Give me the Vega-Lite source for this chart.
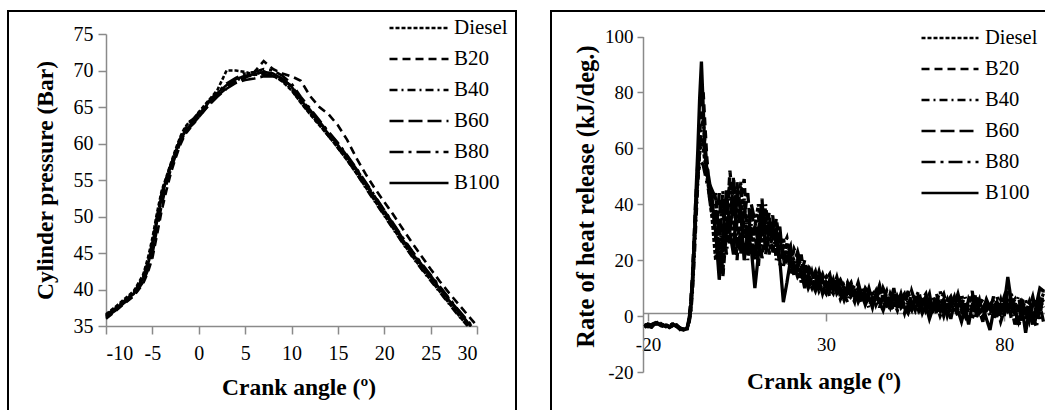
{
"$schema": "https://vega.github.io/schema/vega-lite/v6.json",
"padding": {"left": 7, "top": 10, "right": 0, "bottom": 0},
"spacing": 33,
"config": {
  "font": "Liberation Serif",
  "view": {"stroke": "black", "strokeWidth": 2},
  "axis": {"domainColor": "#8a8a8a", "tickColor": "#8a8a8a", "domainWidth": 1.5, "tickWidth": 1.5, "grid": false, "labelFont": "Liberation Serif", "labelColor": "black", "titleFont": "Liberation Serif", "titleFontWeight": "bold", "titleColor": "black", "labelExpr": "replace(datum.label, '\u2212', '-')"},
  "legend": {"labelFont": "Liberation Serif", "labelColor": "black"}
},
"resolve": {"scale": {"strokeDash": "independent"}, "legend": {"strokeDash": "independent"}},
"datasets": {
"p": [
{"s":"Diesel","x":-10,"y":36.6},{"s":"Diesel","x":-9,"y":37.6},{"s":"Diesel","x":-8,"y":38.7},{"s":"Diesel","x":-7,"y":39.8},{"s":"Diesel","x":-6,"y":42},{"s":"Diesel","x":-5.5,"y":44.2},{"s":"Diesel","x":-5,"y":47},{"s":"Diesel","x":-4.5,"y":50.5},{"s":"Diesel","x":-4,"y":53.5},{"s":"Diesel","x":-3.5,"y":55.4},{"s":"Diesel","x":-3,"y":57.3},{"s":"Diesel","x":-2.5,"y":59.2},{"s":"Diesel","x":-2,"y":60.9},{"s":"Diesel","x":-1.5,"y":62.2},{"s":"Diesel","x":-1,"y":63},{"s":"Diesel","x":-0.5,"y":63.4},{"s":"Diesel","x":0,"y":64.3},{"s":"Diesel","x":1,"y":65.8},{"s":"Diesel","x":2,"y":67.3},{"s":"Diesel","x":3,"y":70},{"s":"Diesel","x":4,"y":70},{"s":"Diesel","x":5,"y":69.8},{"s":"Diesel","x":6,"y":69.4},{"s":"Diesel","x":7,"y":69.9},{"s":"Diesel","x":8,"y":69.3},{"s":"Diesel","x":9,"y":68.5},{"s":"Diesel","x":10,"y":67.3},{"s":"Diesel","x":11,"y":65.6},{"s":"Diesel","x":12,"y":64},{"s":"Diesel","x":13,"y":62.5},{"s":"Diesel","x":14,"y":61},{"s":"Diesel","x":15,"y":59.4},{"s":"Diesel","x":16,"y":57.7},{"s":"Diesel","x":17,"y":55.9},{"s":"Diesel","x":18,"y":54},{"s":"Diesel","x":19,"y":52.1},{"s":"Diesel","x":20,"y":50.2},{"s":"Diesel","x":21,"y":48.3},{"s":"Diesel","x":22,"y":46.4},{"s":"Diesel","x":23,"y":44.6},{"s":"Diesel","x":24,"y":42.9},{"s":"Diesel","x":25,"y":41.3},{"s":"Diesel","x":26,"y":39.7},{"s":"Diesel","x":27,"y":38.1},{"s":"Diesel","x":28,"y":36.5},{"s":"Diesel","x":29,"y":35},
{"s":"B20","x":-10,"y":36},{"s":"B20","x":-9,"y":37},{"s":"B20","x":-8,"y":38.1},{"s":"B20","x":-7,"y":39.1},{"s":"B20","x":-6,"y":40.8},{"s":"B20","x":-5.5,"y":42.3},{"s":"B20","x":-5,"y":44.3},{"s":"B20","x":-4.5,"y":47.5},{"s":"B20","x":-4,"y":50.8},{"s":"B20","x":-3.5,"y":53.5},{"s":"B20","x":-3,"y":56},{"s":"B20","x":-2.5,"y":58},{"s":"B20","x":-2,"y":59.8},{"s":"B20","x":-1.5,"y":61.2},{"s":"B20","x":-1,"y":62},{"s":"B20","x":-0.5,"y":62.9},{"s":"B20","x":0,"y":63.6},{"s":"B20","x":1,"y":65.2},{"s":"B20","x":2,"y":66.5},{"s":"B20","x":3,"y":67.6},{"s":"B20","x":4,"y":68.5},{"s":"B20","x":5,"y":69},{"s":"B20","x":6,"y":69.8},{"s":"B20","x":7,"y":71.3},{"s":"B20","x":8,"y":70.2},{"s":"B20","x":9,"y":69.6},{"s":"B20","x":10,"y":69.2},{"s":"B20","x":11,"y":68.6},{"s":"B20","x":12,"y":66.5},{"s":"B20","x":13,"y":65},{"s":"B20","x":14,"y":64},{"s":"B20","x":15,"y":62.5},{"s":"B20","x":16,"y":60.5},{"s":"B20","x":17,"y":58},{"s":"B20","x":18,"y":55.8},{"s":"B20","x":19,"y":53.8},{"s":"B20","x":20,"y":52},{"s":"B20","x":21,"y":50.2},{"s":"B20","x":22,"y":48.3},{"s":"B20","x":23,"y":46.4},{"s":"B20","x":24,"y":44.6},{"s":"B20","x":25,"y":42.8},{"s":"B20","x":26,"y":41.1},{"s":"B20","x":27,"y":39.5},{"s":"B20","x":28,"y":38},{"s":"B20","x":29,"y":36.5},{"s":"B20","x":30,"y":35},
{"s":"B40","x":-10,"y":36.4},{"s":"B40","x":-9,"y":37.5},{"s":"B40","x":-8,"y":38.5},{"s":"B40","x":-7,"y":39.6},{"s":"B40","x":-6,"y":41.7},{"s":"B40","x":-5.5,"y":43.6},{"s":"B40","x":-5,"y":46.2},{"s":"B40","x":-4.5,"y":49.8},{"s":"B40","x":-4,"y":53},{"s":"B40","x":-3.5,"y":55.2},{"s":"B40","x":-3,"y":57.2},{"s":"B40","x":-2.5,"y":58.9},{"s":"B40","x":-2,"y":60.5},{"s":"B40","x":-1.5,"y":61.5},{"s":"B40","x":-1,"y":62.8},{"s":"B40","x":-0.5,"y":63},{"s":"B40","x":0,"y":63.8},{"s":"B40","x":1,"y":65.4},{"s":"B40","x":2,"y":66.6},{"s":"B40","x":3,"y":67.8},{"s":"B40","x":4,"y":68.6},{"s":"B40","x":5,"y":69.1},{"s":"B40","x":6,"y":69.4},{"s":"B40","x":7,"y":69.5},{"s":"B40","x":8,"y":69.3},{"s":"B40","x":9,"y":68.6},{"s":"B40","x":10,"y":67.4},{"s":"B40","x":11,"y":65.6},{"s":"B40","x":12,"y":64.1},{"s":"B40","x":13,"y":62.6},{"s":"B40","x":14,"y":61},{"s":"B40","x":15,"y":59.4},{"s":"B40","x":16,"y":57.7},{"s":"B40","x":17,"y":55.9},{"s":"B40","x":18,"y":53.9},{"s":"B40","x":19,"y":52},{"s":"B40","x":20,"y":50.1},{"s":"B40","x":21,"y":48.2},{"s":"B40","x":22,"y":46.3},{"s":"B40","x":23,"y":44.5},{"s":"B40","x":24,"y":42.8},{"s":"B40","x":25,"y":41.2},{"s":"B40","x":26,"y":39.6},{"s":"B40","x":27,"y":38},{"s":"B40","x":28,"y":36.4},{"s":"B40","x":29,"y":35},
{"s":"B60","x":-10,"y":36.2},{"s":"B60","x":-9,"y":37.1},{"s":"B60","x":-8,"y":38.2},{"s":"B60","x":-7,"y":39.2},{"s":"B60","x":-6,"y":41},{"s":"B60","x":-5.5,"y":42.6},{"s":"B60","x":-5,"y":44.8},{"s":"B60","x":-4.5,"y":48.3},{"s":"B60","x":-4,"y":51.5},{"s":"B60","x":-3.5,"y":54.3},{"s":"B60","x":-3,"y":56.5},{"s":"B60","x":-2.5,"y":58.3},{"s":"B60","x":-2,"y":60.1},{"s":"B60","x":-1.5,"y":61.4},{"s":"B60","x":-1,"y":62.2},{"s":"B60","x":-0.5,"y":62.8},{"s":"B60","x":0,"y":63.6},{"s":"B60","x":1,"y":65.1},{"s":"B60","x":2,"y":66.4},{"s":"B60","x":3,"y":67.5},{"s":"B60","x":4,"y":68.3},{"s":"B60","x":5,"y":68.7},{"s":"B60","x":6,"y":68.9},{"s":"B60","x":7,"y":69.2},{"s":"B60","x":8,"y":69.2},{"s":"B60","x":9,"y":68.8},{"s":"B60","x":10,"y":67.9},{"s":"B60","x":11,"y":66.2},{"s":"B60","x":12,"y":64.6},{"s":"B60","x":13,"y":63},{"s":"B60","x":14,"y":61.5},{"s":"B60","x":15,"y":60},{"s":"B60","x":16,"y":58.3},{"s":"B60","x":17,"y":56.5},{"s":"B60","x":18,"y":54.6},{"s":"B60","x":19,"y":52.7},{"s":"B60","x":20,"y":50.8},{"s":"B60","x":21,"y":48.9},{"s":"B60","x":22,"y":47},{"s":"B60","x":23,"y":45.2},{"s":"B60","x":24,"y":43.5},{"s":"B60","x":25,"y":41.9},{"s":"B60","x":26,"y":40.3},{"s":"B60","x":27,"y":38.7},{"s":"B60","x":28,"y":37.1},{"s":"B60","x":29,"y":35.5},{"s":"B60","x":29.4,"y":35},
{"s":"B80","x":-10,"y":36.5},{"s":"B80","x":-9,"y":37.4},{"s":"B80","x":-8,"y":38.5},{"s":"B80","x":-7,"y":39.5},{"s":"B80","x":-6,"y":41.6},{"s":"B80","x":-5.5,"y":43.8},{"s":"B80","x":-5,"y":46.5},{"s":"B80","x":-4.5,"y":50},{"s":"B80","x":-4,"y":53.2},{"s":"B80","x":-3.5,"y":55.3},{"s":"B80","x":-3,"y":57},{"s":"B80","x":-2.5,"y":58.8},{"s":"B80","x":-2,"y":60.7},{"s":"B80","x":-1.5,"y":62},{"s":"B80","x":-1,"y":62.9},{"s":"B80","x":-0.5,"y":63.5},{"s":"B80","x":0,"y":64.2},{"s":"B80","x":1,"y":65.7},{"s":"B80","x":2,"y":67},{"s":"B80","x":3,"y":68.2},{"s":"B80","x":4,"y":69},{"s":"B80","x":5,"y":69.6},{"s":"B80","x":6,"y":69.8},{"s":"B80","x":7,"y":70.2},{"s":"B80","x":8,"y":70},{"s":"B80","x":9,"y":69.3},{"s":"B80","x":10,"y":68.2},{"s":"B80","x":11,"y":66.4},{"s":"B80","x":12,"y":64.8},{"s":"B80","x":13,"y":63.2},{"s":"B80","x":14,"y":61.6},{"s":"B80","x":15,"y":60.1},{"s":"B80","x":16,"y":58.4},{"s":"B80","x":17,"y":56.6},{"s":"B80","x":18,"y":54.7},{"s":"B80","x":19,"y":52.8},{"s":"B80","x":20,"y":50.9},{"s":"B80","x":21,"y":49},{"s":"B80","x":22,"y":47.1},{"s":"B80","x":23,"y":45.3},{"s":"B80","x":24,"y":43.6},{"s":"B80","x":25,"y":42},{"s":"B80","x":26,"y":40.4},{"s":"B80","x":27,"y":38.8},{"s":"B80","x":28,"y":37.2},{"s":"B80","x":29,"y":35.7},{"s":"B80","x":29.5,"y":35},
{"s":"B100","x":-10,"y":36.3},{"s":"B100","x":-9,"y":37.3},{"s":"B100","x":-8,"y":38.4},{"s":"B100","x":-7,"y":39.4},{"s":"B100","x":-6,"y":41.5},{"s":"B100","x":-5.5,"y":43.3},{"s":"B100","x":-5,"y":45.7},{"s":"B100","x":-4.5,"y":49.3},{"s":"B100","x":-4,"y":52.6},{"s":"B100","x":-3.5,"y":55},{"s":"B100","x":-3,"y":57},{"s":"B100","x":-2.5,"y":58.7},{"s":"B100","x":-2,"y":60.5},{"s":"B100","x":-1.5,"y":61.7},{"s":"B100","x":-1,"y":62.4},{"s":"B100","x":-0.5,"y":63.2},{"s":"B100","x":0,"y":64},{"s":"B100","x":1,"y":65.5},{"s":"B100","x":2,"y":66.9},{"s":"B100","x":3,"y":68},{"s":"B100","x":4,"y":68.8},{"s":"B100","x":5,"y":69.3},{"s":"B100","x":6,"y":69.5},{"s":"B100","x":7,"y":69.8},{"s":"B100","x":8,"y":69.6},{"s":"B100","x":9,"y":68.9},{"s":"B100","x":10,"y":67.8},{"s":"B100","x":11,"y":66},{"s":"B100","x":12,"y":64.4},{"s":"B100","x":13,"y":62.9},{"s":"B100","x":14,"y":61.3},{"s":"B100","x":15,"y":59.8},{"s":"B100","x":16,"y":58.1},{"s":"B100","x":17,"y":56.3},{"s":"B100","x":18,"y":54.4},{"s":"B100","x":19,"y":52.5},{"s":"B100","x":20,"y":50.6},{"s":"B100","x":21,"y":48.7},{"s":"B100","x":22,"y":46.8},{"s":"B100","x":23,"y":45},{"s":"B100","x":24,"y":43.3},{"s":"B100","x":25,"y":41.7},{"s":"B100","x":26,"y":40.1},{"s":"B100","x":27,"y":38.5},{"s":"B100","x":28,"y":36.9},{"s":"B100","x":29,"y":35.4},{"s":"B100","x":29.3,"y":35}
],
"h": [
{"s":"Diesel","x":-21,"y":-3},{"s":"Diesel","x":-20,"y":-3.4},{"s":"Diesel","x":-19,"y":-3.9},{"s":"Diesel","x":-18,"y":-2.8},{"s":"Diesel","x":-17,"y":-2},{"s":"Diesel","x":-16,"y":-3.2},{"s":"Diesel","x":-15,"y":-3.6},{"s":"Diesel","x":-14,"y":-3.4},{"s":"Diesel","x":-13,"y":-2.8},{"s":"Diesel","x":-12,"y":-3.8},{"s":"Diesel","x":-11,"y":-4.4},{"s":"Diesel","x":-10,"y":-4.6},{"s":"Diesel","x":-9,"y":-4},
{"s":"Diesel","x":-8.5,"y":-2},{"s":"Diesel","x":-8,"y":2},{"s":"Diesel","x":-7.5,"y":11},{"s":"Diesel","x":-7,"y":24},{"s":"Diesel","x":-6.5,"y":38},{"s":"Diesel","x":-6,"y":50},{"s":"Diesel","x":-5.5,"y":58},{"s":"Diesel","x":-5,"y":62},{"s":"Diesel","x":-4.5,"y":60},{"s":"Diesel","x":-4,"y":55},{"s":"Diesel","x":-3.5,"y":50},{"s":"Diesel","x":-3,"y":46},{"s":"Diesel","x":-2.5,"y":40},{"s":"Diesel","x":-2,"y":35},
{"s":"Diesel","x":-1,"y":20},{"s":"Diesel","x":0,"y":35},{"s":"Diesel","x":1,"y":15},{"s":"Diesel","x":2,"y":38},{"s":"Diesel","x":3,"y":48},{"s":"Diesel","x":4,"y":26},{"s":"Diesel","x":5,"y":34},{"s":"Diesel","x":6,"y":48},{"s":"Diesel","x":7,"y":28},{"s":"Diesel","x":8,"y":36},{"s":"Diesel","x":9,"y":22},{"s":"Diesel","x":10,"y":32},{"s":"Diesel","x":11,"y":40},{"s":"Diesel","x":12,"y":26},{"s":"Diesel","x":13,"y":36},{"s":"Diesel","x":14,"y":22},{"s":"Diesel","x":15,"y":30},{"s":"Diesel","x":16,"y":26},{"s":"Diesel","x":17,"y":24},{"s":"Diesel","x":18,"y":28},{"s":"Diesel","x":19,"y":20},{"s":"Diesel","x":20,"y":22},{"s":"Diesel","x":21,"y":17},{"s":"Diesel","x":22,"y":20},{"s":"Diesel","x":23,"y":12},{"s":"Diesel","x":24,"y":17},{"s":"Diesel","x":25,"y":13},{"s":"Diesel","x":26,"y":10},{"s":"Diesel","x":27,"y":14},{"s":"Diesel","x":28,"y":9},{"s":"Diesel","x":29,"y":12},{"s":"Diesel","x":30,"y":14},{"s":"Diesel","x":31,"y":10},{"s":"Diesel","x":32,"y":8},{"s":"Diesel","x":33,"y":12},{"s":"Diesel","x":34,"y":7},{"s":"Diesel","x":35,"y":11},{"s":"Diesel","x":36,"y":8},{"s":"Diesel","x":37,"y":10},{"s":"Diesel","x":38,"y":6},{"s":"Diesel","x":39,"y":9},{"s":"Diesel","x":40,"y":5},{"s":"Diesel","x":41,"y":8},{"s":"Diesel","x":42,"y":6},{"s":"Diesel","x":43,"y":9},{"s":"Diesel","x":44,"y":4},{"s":"Diesel","x":45,"y":7},{"s":"Diesel","x":46,"y":5},{"s":"Diesel","x":47,"y":3},{"s":"Diesel","x":48,"y":8},{"s":"Diesel","x":49,"y":5},{"s":"Diesel","x":50,"y":2},{"s":"Diesel","x":51,"y":6},{"s":"Diesel","x":52,"y":8},{"s":"Diesel","x":53,"y":4},{"s":"Diesel","x":54,"y":2},{"s":"Diesel","x":55,"y":7},{"s":"Diesel","x":56,"y":3},{"s":"Diesel","x":57,"y":5},{"s":"Diesel","x":58,"y":1},{"s":"Diesel","x":59,"y":6},{"s":"Diesel","x":60,"y":2},{"s":"Diesel","x":61,"y":4},{"s":"Diesel","x":62,"y":0},{"s":"Diesel","x":63,"y":3},{"s":"Diesel","x":64,"y":6},{"s":"Diesel","x":65,"y":1},{"s":"Diesel","x":66,"y":3},{"s":"Diesel","x":67,"y":7},{"s":"Diesel","x":68,"y":2},{"s":"Diesel","x":69,"y":5},{"s":"Diesel","x":70,"y":1},{"s":"Diesel","x":71,"y":-1},{"s":"Diesel","x":72,"y":3},{"s":"Diesel","x":73,"y":6},{"s":"Diesel","x":74,"y":0},{"s":"Diesel","x":75,"y":2},{"s":"Diesel","x":76,"y":4},{"s":"Diesel","x":77,"y":-1},{"s":"Diesel","x":78,"y":2},{"s":"Diesel","x":79,"y":6},{"s":"Diesel","x":80,"y":1},{"s":"Diesel","x":81,"y":3},{"s":"Diesel","x":82,"y":8},{"s":"Diesel","x":83,"y":0},{"s":"Diesel","x":84,"y":4},{"s":"Diesel","x":85,"y":-2},{"s":"Diesel","x":86,"y":1},{"s":"Diesel","x":87,"y":5},{"s":"Diesel","x":88,"y":-1},{"s":"Diesel","x":89,"y":2},{"s":"Diesel","x":90,"y":6},{"s":"Diesel","x":91,"y":3},
{"s":"B20","x":-21,"y":-4},{"s":"B20","x":-20,"y":-3.2},{"s":"B20","x":-19,"y":-3.5},{"s":"B20","x":-18,"y":-2.2},{"s":"B20","x":-17,"y":-2.6},{"s":"B20","x":-16,"y":-3.8},{"s":"B20","x":-15,"y":-3},{"s":"B20","x":-14,"y":-4},{"s":"B20","x":-13,"y":-3.4},{"s":"B20","x":-12,"y":-3.2},{"s":"B20","x":-11,"y":-4.8},{"s":"B20","x":-10,"y":-4.4},{"s":"B20","x":-9,"y":-4.2},
{"s":"B20","x":-8.5,"y":-1},{"s":"B20","x":-8,"y":5},{"s":"B20","x":-7.5,"y":15},{"s":"B20","x":-7,"y":30},{"s":"B20","x":-6.5,"y":44},{"s":"B20","x":-6,"y":55},{"s":"B20","x":-5.5,"y":65},{"s":"B20","x":-5,"y":74},{"s":"B20","x":-4.5,"y":80},{"s":"B20","x":-4,"y":68},{"s":"B20","x":-3.5,"y":57},{"s":"B20","x":-3,"y":49},{"s":"B20","x":-2.5,"y":43},{"s":"B20","x":-2,"y":38},
{"s":"B20","x":-1,"y":44},{"s":"B20","x":0,"y":25},{"s":"B20","x":1,"y":14},{"s":"B20","x":2,"y":30},{"s":"B20","x":3,"y":52},{"s":"B20","x":4,"y":38},{"s":"B20","x":5,"y":20},{"s":"B20","x":6,"y":42},{"s":"B20","x":7,"y":49},{"s":"B20","x":8,"y":24},{"s":"B20","x":9,"y":38},{"s":"B20","x":10,"y":30},{"s":"B20","x":11,"y":18},{"s":"B20","x":12,"y":35},{"s":"B20","x":13,"y":27},{"s":"B20","x":14,"y":37},{"s":"B20","x":15,"y":22},{"s":"B20","x":16,"y":35},{"s":"B20","x":17,"y":26},{"s":"B20","x":18,"y":22},{"s":"B20","x":19,"y":26},{"s":"B20","x":20,"y":18},{"s":"B20","x":21,"y":24},{"s":"B20","x":22,"y":21},{"s":"B20","x":23,"y":15},{"s":"B20","x":24,"y":20},{"s":"B20","x":25,"y":12},{"s":"B20","x":26,"y":16},{"s":"B20","x":27,"y":11},{"s":"B20","x":28,"y":14},{"s":"B20","x":29,"y":10},{"s":"B20","x":30,"y":8},{"s":"B20","x":31,"y":13},{"s":"B20","x":32,"y":10},{"s":"B20","x":33,"y":14},{"s":"B20","x":34,"y":9},{"s":"B20","x":35,"y":6},{"s":"B20","x":36,"y":10},{"s":"B20","x":37,"y":12},{"s":"B20","x":38,"y":7},{"s":"B20","x":39,"y":10},{"s":"B20","x":40,"y":9},{"s":"B20","x":41,"y":6},{"s":"B20","x":42,"y":10},{"s":"B20","x":43,"y":5},{"s":"B20","x":44,"y":6},{"s":"B20","x":45,"y":9},{"s":"B20","x":46,"y":7},{"s":"B20","x":47,"y":4},{"s":"B20","x":48,"y":6},{"s":"B20","x":49,"y":9},{"s":"B20","x":50,"y":6},{"s":"B20","x":51,"y":3},{"s":"B20","x":52,"y":5},{"s":"B20","x":53,"y":8},{"s":"B20","x":54,"y":6},{"s":"B20","x":55,"y":3},{"s":"B20","x":56,"y":8},{"s":"B20","x":57,"y":4},{"s":"B20","x":58,"y":7},{"s":"B20","x":59,"y":3},{"s":"B20","x":60,"y":5},{"s":"B20","x":61,"y":1},{"s":"B20","x":62,"y":6},{"s":"B20","x":63,"y":8},{"s":"B20","x":64,"y":3},{"s":"B20","x":65,"y":5},{"s":"B20","x":66,"y":1},{"s":"B20","x":67,"y":4},{"s":"B20","x":68,"y":6},{"s":"B20","x":69,"y":1},{"s":"B20","x":70,"y":4},{"s":"B20","x":71,"y":7},{"s":"B20","x":72,"y":2},{"s":"B20","x":73,"y":4},{"s":"B20","x":74,"y":6},{"s":"B20","x":75,"y":1},{"s":"B20","x":76,"y":3},{"s":"B20","x":77,"y":5},{"s":"B20","x":78,"y":0},{"s":"B20","x":79,"y":3},{"s":"B20","x":80,"y":7},{"s":"B20","x":81,"y":2},{"s":"B20","x":82,"y":4},{"s":"B20","x":83,"y":6},{"s":"B20","x":84,"y":1},{"s":"B20","x":85,"y":5},{"s":"B20","x":86,"y":2},{"s":"B20","x":87,"y":-2},{"s":"B20","x":88,"y":4},{"s":"B20","x":89,"y":0},{"s":"B20","x":90,"y":5},{"s":"B20","x":91,"y":8},
{"s":"B40","x":-21,"y":-3.2},{"s":"B40","x":-20,"y":-3.6},{"s":"B40","x":-19,"y":-4},{"s":"B40","x":-18,"y":-3},{"s":"B40","x":-17,"y":-2.4},{"s":"B40","x":-16,"y":-3},{"s":"B40","x":-15,"y":-3.8},{"s":"B40","x":-14,"y":-3.6},{"s":"B40","x":-13,"y":-2.6},{"s":"B40","x":-12,"y":-3.4},{"s":"B40","x":-11,"y":-4.2},{"s":"B40","x":-10,"y":-4.8},{"s":"B40","x":-9,"y":-4.6},
{"s":"B40","x":-8.5,"y":-2.5},{"s":"B40","x":-8,"y":1},{"s":"B40","x":-7.5,"y":9},{"s":"B40","x":-7,"y":21},{"s":"B40","x":-6.5,"y":35},{"s":"B40","x":-6,"y":48},{"s":"B40","x":-5.5,"y":60},{"s":"B40","x":-5,"y":68},{"s":"B40","x":-4.5,"y":70},{"s":"B40","x":-4,"y":62},{"s":"B40","x":-3.5,"y":54},{"s":"B40","x":-3,"y":48},{"s":"B40","x":-2.5,"y":42},{"s":"B40","x":-2,"y":36},
{"s":"B40","x":-1,"y":38},{"s":"B40","x":0,"y":18},{"s":"B40","x":1,"y":40},{"s":"B40","x":2,"y":22},{"s":"B40","x":3,"y":36},{"s":"B40","x":4,"y":46},{"s":"B40","x":5,"y":24},{"s":"B40","x":6,"y":30},{"s":"B40","x":7,"y":42},{"s":"B40","x":8,"y":20},{"s":"B40","x":9,"y":33},{"s":"B40","x":10,"y":24},{"s":"B40","x":11,"y":36},{"s":"B40","x":12,"y":20},{"s":"B40","x":13,"y":40},{"s":"B40","x":14,"y":28},{"s":"B40","x":15,"y":34},{"s":"B40","x":16,"y":20},{"s":"B40","x":17,"y":28},{"s":"B40","x":18,"y":21},{"s":"B40","x":19,"y":24},{"s":"B40","x":20,"y":15},{"s":"B40","x":21,"y":20},{"s":"B40","x":22,"y":17},{"s":"B40","x":23,"y":22},{"s":"B40","x":24,"y":13},{"s":"B40","x":25,"y":17},{"s":"B40","x":26,"y":14},{"s":"B40","x":27,"y":10},{"s":"B40","x":28,"y":12},{"s":"B40","x":29,"y":15},{"s":"B40","x":30,"y":11},{"s":"B40","x":31,"y":7},{"s":"B40","x":32,"y":12},{"s":"B40","x":33,"y":9},{"s":"B40","x":34,"y":12},{"s":"B40","x":35,"y":8},{"s":"B40","x":36,"y":5},{"s":"B40","x":37,"y":9},{"s":"B40","x":38,"y":11},{"s":"B40","x":39,"y":7},{"s":"B40","x":40,"y":10},{"s":"B40","x":41,"y":7},{"s":"B40","x":42,"y":3},{"s":"B40","x":43,"y":7},{"s":"B40","x":44,"y":10},{"s":"B40","x":45,"y":3},{"s":"B40","x":46,"y":8},{"s":"B40","x":47,"y":6},{"s":"B40","x":48,"y":2},{"s":"B40","x":49,"y":4},{"s":"B40","x":50,"y":8},{"s":"B40","x":51,"y":5},{"s":"B40","x":52,"y":1},{"s":"B40","x":53,"y":6},{"s":"B40","x":54,"y":4},{"s":"B40","x":55,"y":8},{"s":"B40","x":56,"y":1},{"s":"B40","x":57,"y":7},{"s":"B40","x":58,"y":2},{"s":"B40","x":59,"y":5},{"s":"B40","x":60,"y":7},{"s":"B40","x":61,"y":3},{"s":"B40","x":62,"y":4},{"s":"B40","x":63,"y":0},{"s":"B40","x":64,"y":5},{"s":"B40","x":65,"y":7},{"s":"B40","x":66,"y":3},{"s":"B40","x":67,"y":0},{"s":"B40","x":68,"y":4},{"s":"B40","x":69,"y":7},{"s":"B40","x":70,"y":2},{"s":"B40","x":71,"y":5},{"s":"B40","x":72,"y":-1},{"s":"B40","x":73,"y":3},{"s":"B40","x":74,"y":5},{"s":"B40","x":75,"y":4},{"s":"B40","x":76,"y":0},{"s":"B40","x":77,"y":6},{"s":"B40","x":78,"y":3},{"s":"B40","x":79,"y":-2},{"s":"B40","x":80,"y":2},{"s":"B40","x":81,"y":6},{"s":"B40","x":82,"y":-1},{"s":"B40","x":83,"y":4},{"s":"B40","x":84,"y":7},{"s":"B40","x":85,"y":0},{"s":"B40","x":86,"y":3},{"s":"B40","x":87,"y":6},{"s":"B40","x":88,"y":1},{"s":"B40","x":89,"y":-4},{"s":"B40","x":90,"y":3},{"s":"B40","x":91,"y":6},
{"s":"B60","x":-21,"y":-3.8},{"s":"B60","x":-20,"y":-2.8},{"s":"B60","x":-19,"y":-3.3},{"s":"B60","x":-18,"y":-2.6},{"s":"B60","x":-17,"y":-2.2},{"s":"B60","x":-16,"y":-3.4},{"s":"B60","x":-15,"y":-3.4},{"s":"B60","x":-14,"y":-3.7},{"s":"B60","x":-13,"y":-3},{"s":"B60","x":-12,"y":-3.9},{"s":"B60","x":-11,"y":-4.4},{"s":"B60","x":-10,"y":-4.9},{"s":"B60","x":-9,"y":-4.3},
{"s":"B60","x":-8.5,"y":-2.2},{"s":"B60","x":-8,"y":2.5},{"s":"B60","x":-7.5,"y":12},{"s":"B60","x":-7,"y":26},{"s":"B60","x":-6.5,"y":40},{"s":"B60","x":-6,"y":52},{"s":"B60","x":-5.5,"y":62},{"s":"B60","x":-5,"y":65},{"s":"B60","x":-4.5,"y":63},{"s":"B60","x":-4,"y":58},{"s":"B60","x":-3.5,"y":53},{"s":"B60","x":-3,"y":50},{"s":"B60","x":-2.5,"y":46},{"s":"B60","x":-2,"y":42},
{"s":"B60","x":-1,"y":28},{"s":"B60","x":0,"y":44},{"s":"B60","x":1,"y":22},{"s":"B60","x":2,"y":32},{"s":"B60","x":3,"y":26},{"s":"B60","x":4,"y":50},{"s":"B60","x":5,"y":30},{"s":"B60","x":6,"y":22},{"s":"B60","x":7,"y":36},{"s":"B60","x":8,"y":44},{"s":"B60","x":9,"y":28},{"s":"B60","x":10,"y":20},{"s":"B60","x":11,"y":30},{"s":"B60","x":12,"y":42},{"s":"B60","x":13,"y":22},{"s":"B60","x":14,"y":30},{"s":"B60","x":15,"y":36},{"s":"B60","x":16,"y":24},{"s":"B60","x":17,"y":32},{"s":"B60","x":18,"y":18},{"s":"B60","x":19,"y":22},{"s":"B60","x":20,"y":25},{"s":"B60","x":21,"y":14},{"s":"B60","x":22,"y":18},{"s":"B60","x":23,"y":20},{"s":"B60","x":24,"y":15},{"s":"B60","x":25,"y":10},{"s":"B60","x":26,"y":13},{"s":"B60","x":27,"y":16},{"s":"B60","x":28,"y":11},{"s":"B60","x":29,"y":13},{"s":"B60","x":30,"y":9},{"s":"B60","x":31,"y":12},{"s":"B60","x":32,"y":14},{"s":"B60","x":33,"y":10},{"s":"B60","x":34,"y":6},{"s":"B60","x":35,"y":9},{"s":"B60","x":36,"y":12},{"s":"B60","x":37,"y":8},{"s":"B60","x":38,"y":5},{"s":"B60","x":39,"y":11},{"s":"B60","x":40,"y":6},{"s":"B60","x":41,"y":10},{"s":"B60","x":42,"y":8},{"s":"B60","x":43,"y":4},{"s":"B60","x":44,"y":7},{"s":"B60","x":45,"y":11},{"s":"B60","x":46,"y":6},{"s":"B60","x":47,"y":9},{"s":"B60","x":48,"y":4},{"s":"B60","x":49,"y":2},{"s":"B60","x":50,"y":7},{"s":"B60","x":51,"y":4},{"s":"B60","x":52,"y":7},{"s":"B60","x":53,"y":3},{"s":"B60","x":54,"y":9},{"s":"B60","x":55,"y":5},{"s":"B60","x":56,"y":2},{"s":"B60","x":57,"y":6},{"s":"B60","x":58,"y":8},{"s":"B60","x":59,"y":2},{"s":"B60","x":60,"y":4},{"s":"B60","x":61,"y":8},{"s":"B60","x":62,"y":3},{"s":"B60","x":63,"y":6},{"s":"B60","x":64,"y":2},{"s":"B60","x":65,"y":6},{"s":"B60","x":66,"y":4},{"s":"B60","x":67,"y":8},{"s":"B60","x":68,"y":3},{"s":"B60","x":69,"y":0},{"s":"B60","x":70,"y":6},{"s":"B60","x":71,"y":3},{"s":"B60","x":72,"y":8},{"s":"B60","x":73,"y":2},{"s":"B60","x":74,"y":-2},{"s":"B60","x":75,"y":5},{"s":"B60","x":76,"y":2},{"s":"B60","x":77,"y":7},{"s":"B60","x":78,"y":-1},{"s":"B60","x":79,"y":4},{"s":"B60","x":80,"y":0},{"s":"B60","x":81,"y":9},{"s":"B60","x":82,"y":3},{"s":"B60","x":83,"y":-3},{"s":"B60","x":84,"y":2},{"s":"B60","x":85,"y":7},{"s":"B60","x":86,"y":-1},{"s":"B60","x":87,"y":3},{"s":"B60","x":88,"y":7},{"s":"B60","x":89,"y":1},{"s":"B60","x":90,"y":4},{"s":"B60","x":91,"y":-2},
{"s":"B80","x":-21,"y":-3.4},{"s":"B80","x":-20,"y":-3.1},{"s":"B80","x":-19,"y":-3.7},{"s":"B80","x":-18,"y":-2.9},{"s":"B80","x":-17,"y":-2.5},{"s":"B80","x":-16,"y":-3.3},{"s":"B80","x":-15,"y":-2.9},{"s":"B80","x":-14,"y":-4.1},{"s":"B80","x":-13,"y":-3.3},{"s":"B80","x":-12,"y":-3.1},{"s":"B80","x":-11,"y":-4.3},{"s":"B80","x":-10,"y":-4.7},{"s":"B80","x":-9,"y":-4.5},
{"s":"B80","x":-8.5,"y":-1.8},{"s":"B80","x":-8,"y":3.5},{"s":"B80","x":-7.5,"y":13},{"s":"B80","x":-7,"y":27},{"s":"B80","x":-6.5,"y":41},{"s":"B80","x":-6,"y":50},{"s":"B80","x":-5.5,"y":54},{"s":"B80","x":-5,"y":55},{"s":"B80","x":-4.5,"y":54},{"s":"B80","x":-4,"y":51},{"s":"B80","x":-3.5,"y":48},{"s":"B80","x":-3,"y":45},{"s":"B80","x":-2.5,"y":40},{"s":"B80","x":-2,"y":45},
{"s":"B80","x":-1,"y":42},{"s":"B80","x":0,"y":28},{"s":"B80","x":1,"y":45},{"s":"B80","x":2,"y":26},{"s":"B80","x":3,"y":40},{"s":"B80","x":4,"y":35},{"s":"B80","x":5,"y":48},{"s":"B80","x":6,"y":26},{"s":"B80","x":7,"y":32},{"s":"B80","x":8,"y":26},{"s":"B80","x":9,"y":40},{"s":"B80","x":10,"y":34},{"s":"B80","x":11,"y":25},{"s":"B80","x":12,"y":30},{"s":"B80","x":13,"y":35},{"s":"B80","x":14,"y":26},{"s":"B80","x":15,"y":32},{"s":"B80","x":16,"y":28},{"s":"B80","x":17,"y":18},{"s":"B80","x":18,"y":25},{"s":"B80","x":19,"y":28},{"s":"B80","x":20,"y":21},{"s":"B80","x":21,"y":19},{"s":"B80","x":22,"y":23},{"s":"B80","x":23,"y":18},{"s":"B80","x":24,"y":12},{"s":"B80","x":25,"y":18},{"s":"B80","x":26,"y":15},{"s":"B80","x":27,"y":12},{"s":"B80","x":28,"y":16},{"s":"B80","x":29,"y":11},{"s":"B80","x":30,"y":13},{"s":"B80","x":31,"y":15},{"s":"B80","x":32,"y":9},{"s":"B80","x":33,"y":11},{"s":"B80","x":34,"y":13},{"s":"B80","x":35,"y":10},{"s":"B80","x":36,"y":7},{"s":"B80","x":37,"y":11},{"s":"B80","x":38,"y":8},{"s":"B80","x":39,"y":12},{"s":"B80","x":40,"y":7},{"s":"B80","x":41,"y":5},{"s":"B80","x":42,"y":9},{"s":"B80","x":43,"y":6},{"s":"B80","x":44,"y":9},{"s":"B80","x":45,"y":4},{"s":"B80","x":46,"y":10},{"s":"B80","x":47,"y":7},{"s":"B80","x":48,"y":5},{"s":"B80","x":49,"y":10},{"s":"B80","x":50,"y":3},{"s":"B80","x":51,"y":7},{"s":"B80","x":52,"y":4},{"s":"B80","x":53,"y":9},{"s":"B80","x":54,"y":2},{"s":"B80","x":55,"y":6},{"s":"B80","x":56,"y":9},{"s":"B80","x":57,"y":3},{"s":"B80","x":58,"y":5},{"s":"B80","x":59,"y":8},{"s":"B80","x":60,"y":1},{"s":"B80","x":61,"y":5},{"s":"B80","x":62,"y":9},{"s":"B80","x":63,"y":2},{"s":"B80","x":64,"y":4},{"s":"B80","x":65,"y":-1},{"s":"B80","x":66,"y":5},{"s":"B80","x":67,"y":3},{"s":"B80","x":68,"y":8},{"s":"B80","x":69,"y":2},{"s":"B80","x":70,"y":5},{"s":"B80","x":71,"y":9},{"s":"B80","x":72,"y":0},{"s":"B80","x":73,"y":5},{"s":"B80","x":74,"y":2},{"s":"B80","x":75,"y":6},{"s":"B80","x":76,"y":3},{"s":"B80","x":77,"y":0},{"s":"B80","x":78,"y":7},{"s":"B80","x":79,"y":2},{"s":"B80","x":80,"y":5},{"s":"B80","x":81,"y":1},{"s":"B80","x":82,"y":6},{"s":"B80","x":83,"y":3},{"s":"B80","x":84,"y":-4},{"s":"B80","x":85,"y":2},{"s":"B80","x":86,"y":6},{"s":"B80","x":87,"y":0},{"s":"B80","x":88,"y":3},{"s":"B80","x":89,"y":6},{"s":"B80","x":90,"y":-1},{"s":"B80","x":91,"y":10},
{"s":"B100","x":-21,"y":-3.5},{"s":"B100","x":-20,"y":-3.8},{"s":"B100","x":-19,"y":-3},{"s":"B100","x":-18,"y":-2.4},{"s":"B100","x":-17,"y":-3},{"s":"B100","x":-16,"y":-3.6},{"s":"B100","x":-15,"y":-3.2},{"s":"B100","x":-14,"y":-3.9},{"s":"B100","x":-13,"y":-3.2},{"s":"B100","x":-12,"y":-3.6},{"s":"B100","x":-11,"y":-4.6},{"s":"B100","x":-10,"y":-5},{"s":"B100","x":-9,"y":-4.4},
{"s":"B100","x":-8.5,"y":-1.5},{"s":"B100","x":-8,"y":4},{"s":"B100","x":-7.5,"y":14},{"s":"B100","x":-7,"y":28},{"s":"B100","x":-6.5,"y":45},{"s":"B100","x":-6,"y":60},{"s":"B100","x":-5.5,"y":78},{"s":"B100","x":-5,"y":91},{"s":"B100","x":-4.5,"y":75},{"s":"B100","x":-4,"y":58},{"s":"B100","x":-3.5,"y":52},{"s":"B100","x":-3,"y":47},{"s":"B100","x":-2.5,"y":44},{"s":"B100","x":-2,"y":41},
{"s":"B100","x":-1,"y":30},{"s":"B100","x":0,"y":13},{"s":"B100","x":1,"y":28},{"s":"B100","x":2,"y":45},{"s":"B100","x":3,"y":30},{"s":"B100","x":4,"y":22},{"s":"B100","x":5,"y":44},{"s":"B100","x":6,"y":38},{"s":"B100","x":7,"y":20},{"s":"B100","x":8,"y":30},{"s":"B100","x":9,"y":24},{"s":"B100","x":10,"y":10},{"s":"B100","x":11,"y":22},{"s":"B100","x":12,"y":38},{"s":"B100","x":13,"y":30},{"s":"B100","x":14,"y":33},{"s":"B100","x":15,"y":28},{"s":"B100","x":16,"y":31},{"s":"B100","x":17,"y":20},{"s":"B100","x":18,"y":5},{"s":"B100","x":19,"y":12},{"s":"B100","x":20,"y":20},{"s":"B100","x":21,"y":18},{"s":"B100","x":22,"y":14},{"s":"B100","x":23,"y":16},{"s":"B100","x":24,"y":10},{"s":"B100","x":25,"y":15},{"s":"B100","x":26,"y":12},{"s":"B100","x":27,"y":9},{"s":"B100","x":28,"y":13},{"s":"B100","x":29,"y":8},{"s":"B100","x":30,"y":12},{"s":"B100","x":31,"y":9},{"s":"B100","x":32,"y":13},{"s":"B100","x":33,"y":8},{"s":"B100","x":34,"y":10},{"s":"B100","x":35,"y":6},{"s":"B100","x":36,"y":11},{"s":"B100","x":37,"y":7},{"s":"B100","x":38,"y":9},{"s":"B100","x":39,"y":5},{"s":"B100","x":40,"y":8},{"s":"B100","x":41,"y":4},{"s":"B100","x":42,"y":7},{"s":"B100","x":43,"y":3},{"s":"B100","x":44,"y":8},{"s":"B100","x":45,"y":5},{"s":"B100","x":46,"y":2},{"s":"B100","x":47,"y":6},{"s":"B100","x":48,"y":3},{"s":"B100","x":49,"y":7},{"s":"B100","x":50,"y":4},{"s":"B100","x":51,"y":8},{"s":"B100","x":52,"y":3},{"s":"B100","x":53,"y":1},{"s":"B100","x":54,"y":5},{"s":"B100","x":55,"y":2},{"s":"B100","x":56,"y":6},{"s":"B100","x":57,"y":1},{"s":"B100","x":58,"y":4},{"s":"B100","x":59,"y":-1},{"s":"B100","x":60,"y":3},{"s":"B100","x":61,"y":6},{"s":"B100","x":62,"y":2},{"s":"B100","x":63,"y":5},{"s":"B100","x":64,"y":0},{"s":"B100","x":65,"y":4},{"s":"B100","x":66,"y":7},{"s":"B100","x":67,"y":2},{"s":"B100","x":68,"y":-2},{"s":"B100","x":69,"y":3},{"s":"B100","x":70,"y":-3},{"s":"B100","x":71,"y":4},{"s":"B100","x":72,"y":6},{"s":"B100","x":73,"y":1},{"s":"B100","x":74,"y":3},{"s":"B100","x":75,"y":-1},{"s":"B100","x":76,"y":-5},{"s":"B100","x":77,"y":2},{"s":"B100","x":78,"y":5},{"s":"B100","x":79,"y":1},{"s":"B100","x":80,"y":4},{"s":"B100","x":81,"y":14},{"s":"B100","x":82,"y":5},{"s":"B100","x":83,"y":2},{"s":"B100","x":84,"y":-2},{"s":"B100","x":85,"y":3},{"s":"B100","x":86,"y":-6},{"s":"B100","x":87,"y":2},{"s":"B100","x":88,"y":-3},{"s":"B100","x":89,"y":4},{"s":"B100","x":90,"y":10},{"s":"B100","x":91,"y":9}
]
},
"hconcat": [
{
  "width": 508, "height": 402,
  "data": {"name": "p"},
  "mark": {"type": "line", "color": "black", "strokeWidth": 2.6},
  "encoding": {
    "x": {"field": "x", "type": "quantitative",
      "scale": {"domain": [-10, 30], "range": [98, 469], "nice": false, "zero": false},
      "axis": {"orient": "bottom", "offset": -87, "values": [-10,-5,0,5,10,15,20,25,30], "title": "Crank angle (º)", "titleFontSize": 23.5, "labelFontSize": 20, "tickSize": 8, "labelPadding": 9, "titlePadding": 12, "titleX": 290.5}},
    "y": {"field": "y", "type": "quantitative",
      "scale": {"domain": [35, 75], "range": [315, 23], "nice": false, "zero": false},
      "axis": {"orient": "left", "offset": -98, "values": [35,40,45,50,55,60,65,70,75], "title": "Cylinder pressure (Bar)", "titleFontSize": 23.5, "labelFontSize": 20, "tickSize": 8, "labelPadding": 5, "titlePadding": 16}},
    "strokeDash": {"field": "s", "type": "nominal",
      "scale": {"domain": ["Diesel","B20","B40","B60","B80","B100"], "range": [[4,2],[8,5],[8,4,2,4],[14,5],[14,5,3,5],[1,0]]},
      "legend": {"orient": "none", "legendX": 380, "legendY": 1.5, "title": null, "symbolType": "stroke", "symbolSize": 3481, "symbolStrokeWidth": 2.5, "symbolStrokeColor": "black", "clipHeight": 31, "rowPadding": 0, "labelFontSize": 21, "labelOffset": 4, "padding": 0}}
  }
},
{
  "width": 505, "height": 402,
  "data": {"name": "h"},
  "mark": {"type": "line", "color": "black", "strokeWidth": 3.3},
  "encoding": {
    "x": {"field": "x", "type": "quantitative",
      "scale": {"domain": [-21.4, 92], "range": [92, 496], "nice": false, "zero": false},
      "axis": {"orient": "bottom", "offset": -100, "values": [-20, 30, 80], "title": "Crank angle (º)", "titleFontSize": 23.5, "labelFontSize": 19, "tickSize": 8, "labelPadding": 14, "titlePadding": 15, "titleX": 272.5}},
    "y": {"field": "y", "type": "quantitative",
      "scale": {"domain": [-20, 100], "range": [361, 25.5], "nice": false, "zero": false},
      "axis": {"orient": "left", "offset": -92, "values": [-20,0,20,40,60,80,100], "title": "Rate of heat release (kJ/deg.)", "titleFontSize": 24.5, "labelFontSize": 19, "tickSize": 6, "labelPadding": 4, "titlePadding": 6, "titleY": 185}},
    "strokeDash": {"field": "s", "type": "nominal",
      "scale": {"domain": ["Diesel","B20","B40","B60","B80","B100"], "range": [[4,2],[8,5],[8,4,2,4],[14,5],[14,5,3,5],[1,0]]},
      "legend": {"orient": "none", "legendX": 369, "legendY": 11.5, "title": null, "symbolType": "stroke", "symbolSize": 3249, "symbolStrokeWidth": 2.5, "symbolStrokeColor": "black", "clipHeight": 31, "rowPadding": 0, "labelFontSize": 20.5, "labelOffset": 5, "padding": 0}}
  }
}
]
}
